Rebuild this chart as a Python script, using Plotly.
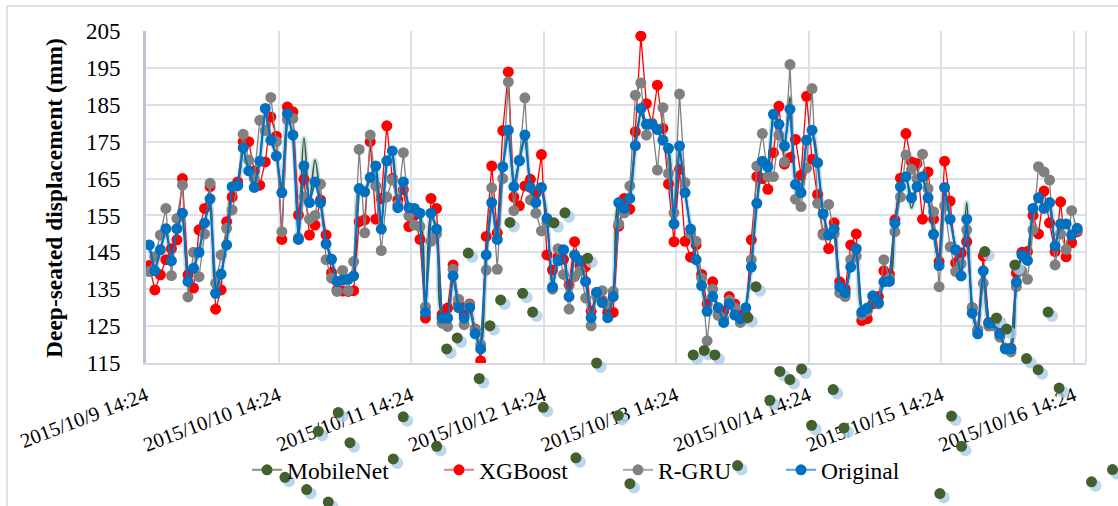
import pandas as pd
import plotly.graph_objects as go

# Hourly deep-seated displacement records (mm)
series_start = pd.Timestamp("2015-10-09 15:00")
n_points = 169
times = pd.date_range(series_start, periods=n_points, freq="h")

original = [
    147.0, 140.0, 145.7, 151.4, 142.7, 151.4, 155.6, 137.1, 140.7, 145.0,
    152.9, 159.5, 133.9, 139.1, 147.0, 162.8, 163.2, 173.3, 167.1, 162.6,
    169.7, 184.0, 175.4, 171.1, 161.2, 182.6, 176.8, 148.5, 168.4, 158.5,
    164.1, 158.5, 147.3, 143.1, 137.1, 137.5, 137.7, 138.6, 162.3, 161.4,
    165.3, 168.4, 151.3, 169.8, 172.5, 157.1, 164.1, 157.1, 156.9, 155.6,
    128.7, 155.6, 151.3, 127.2, 127.2, 138.6, 130.0, 127.2, 130.0, 122.9,
    118.8, 144.3, 158.5, 148.5, 168.2, 178.1, 162.8, 169.8, 176.8, 162.6,
    158.5, 162.6, 154.2, 135.6, 142.7, 145.7, 133.0, 144.3, 142.8, 137.1,
    127.3, 134.2, 131.4, 127.3, 133.0, 158.5, 156.9, 159.6, 173.9, 184.0,
    179.7, 179.7, 178.3, 175.4, 173.2, 152.7, 173.8, 161.2, 151.3, 143.0,
    136.0, 129.0, 133.0, 130.0, 126.0, 131.0, 128.0, 127.0, 130.0, 141.0,
    158.3, 169.7, 168.2, 182.4, 179.7, 173.8, 183.8, 163.4, 161.2, 175.4,
    178.1, 169.3, 155.4, 149.7, 151.3, 135.7, 134.1, 141.0, 146.0, 128.8,
    129.9, 133.2, 131.4, 137.0, 137.1, 152.9, 162.8, 165.5, 159.8, 162.8,
    165.5, 159.8, 149.9, 141.4, 162.6, 154.0, 145.7, 138.6, 154.0, 128.5,
    122.9, 140.0, 125.8, 125.8, 122.9, 118.8, 118.8, 136.9, 144.3, 142.8,
    156.9, 159.8, 156.9, 158.5, 146.7, 152.7, 152.7, 149.7, 151.5,
]

xgboost = [
    141.4, 134.8, 138.9, 143.0, 146.0, 148.4, 165.0, 138.9, 135.3, 151.1,
    156.9, 162.8, 129.6, 134.8, 153.3, 160.0, 164.1, 175.0, 175.0, 167.0,
    163.2, 169.5, 181.7, 176.5, 148.5, 184.4, 183.1, 155.1, 164.8, 149.7,
    152.4, 159.2, 149.7, 139.5, 134.8, 134.5, 134.4, 134.6, 153.3, 153.8,
    175.0, 154.0, 159.6, 179.3, 165.0, 159.2, 162.0, 152.0, 155.0, 148.5,
    127.2, 159.6, 156.9, 128.1, 129.9, 141.6, 131.0, 128.0, 131.0, 124.2,
    115.6, 149.3, 168.4, 150.3, 178.0, 193.9, 160.0, 157.6, 163.0, 164.8,
    161.0, 171.5, 144.3, 140.2, 143.7, 143.1, 136.2, 147.9, 141.3, 141.1,
    129.0, 134.0, 132.0, 128.7, 128.7, 152.1, 159.6, 156.7, 177.7, 203.6,
    185.3, 180.0, 190.3, 178.6, 163.5, 147.9, 167.5, 148.0, 143.7, 147.0,
    139.0, 131.0, 137.0, 128.0, 129.0, 133.0, 131.0, 128.0, 128.0, 148.4,
    165.5, 165.0, 162.1, 172.0, 184.6, 168.9, 170.7, 175.6, 165.9, 187.3,
    170.2, 160.7, 150.0, 146.0, 153.0, 137.0, 135.0, 147.0, 150.0, 126.5,
    127.0, 131.0, 133.0, 140.0, 139.0, 153.8, 165.1, 177.2, 169.5, 169.1,
    154.0, 166.8, 154.0, 142.5, 169.7, 158.9, 142.1, 144.8, 147.9, 130.0,
    124.0, 144.0, 126.0, 126.0, 123.0, 119.0, 119.0, 139.4, 145.0, 145.2,
    155.0, 150.0, 161.6, 153.0, 145.2, 158.7, 143.8, 147.6, 150.6,
]

rgru = [
    139.8, 143.8, 149.7, 156.9, 138.7, 154.2, 163.2, 132.9, 145.0, 138.4,
    150.0, 163.7, 136.6, 144.3, 151.5, 156.5, 163.0, 177.0, 170.0, 165.0,
    180.8, 178.0, 187.0, 175.0, 150.6, 181.0, 181.3, 149.0, 160.1, 154.0,
    155.0, 163.5, 143.0, 138.0, 134.4, 140.1, 134.6, 142.5, 172.9, 150.3,
    176.8, 163.0, 145.5, 160.0, 164.6, 158.0, 172.0, 154.9, 152.4, 152.0,
    130.2, 148.0, 150.0, 125.8, 124.9, 140.4, 132.3, 125.4, 130.8, 124.0,
    120.0, 140.2, 162.5, 140.4, 165.0, 191.2, 156.3, 170.0, 186.9, 159.2,
    155.6, 150.8, 153.0, 135.0, 146.0, 139.0, 129.6, 138.4, 140.0, 132.6,
    125.1, 133.0, 134.6, 131.0, 134.4, 152.7, 155.7, 163.0, 187.6, 190.9,
    176.8, 180.0, 167.3, 184.2, 166.4, 155.7, 187.9, 163.9, 150.0, 148.0,
    138.0, 121.0, 135.0, 128.0, 127.0, 132.0, 130.0, 126.0, 127.0, 143.0,
    168.4, 177.2, 165.5, 165.5, 176.8, 169.5, 195.9, 159.4, 157.4, 167.8,
    189.4, 158.3, 149.7, 158.0, 150.0, 134.0, 133.0, 143.0, 144.0, 128.0,
    129.0, 133.0, 131.0, 143.0, 138.0, 150.6, 160.0, 171.4, 167.5, 165.0,
    171.6, 162.3, 156.0, 135.7, 157.6, 146.5, 139.8, 141.9, 151.1, 130.0,
    124.0, 136.6, 125.0, 125.0, 122.0, 119.0, 118.0, 135.7, 140.0, 137.7,
    151.1, 168.2, 166.8, 164.6, 141.6, 150.0, 145.8, 156.3, 151.0,
]

mobilenet = [
    147.0, 140.5, 145.5, 151.0, 143.5, 151.0, 155.0, 138.0, 141.0, 145.5,
    153.0, 159.0, 134.5, 139.5, 147.5, 162.5, 163.5, 172.5, 167.5, 163.0,
    170.0, 183.0, 175.5, 171.5, 162.0, 181.5, 176.0, 150.0, 176.0, 159.5,
    170.0, 159.0, 148.0, 143.5, 137.5, 137.5, 138.0, 139.0, 162.0, 161.5,
    165.0, 168.0, 152.0, 169.0, 172.0, 157.5, 163.5, 157.5, 157.0, 155.5,
    129.5, 155.0, 151.5, 128.0, 127.5, 138.5, 130.5, 127.5, 130.5, 123.5,
    119.5, 144.0, 158.0, 149.0, 168.0, 177.5, 163.5, 170.0, 176.0, 163.0,
    159.0, 162.0, 154.5, 136.0, 143.0, 145.5, 133.5, 144.0, 143.0, 137.5,
    128.0, 134.0, 131.5, 128.0, 133.5, 158.0, 157.0, 160.0, 173.5, 182.5,
    179.5, 179.5, 178.0, 175.0, 173.0, 153.5, 173.0, 161.5, 151.5, 143.5,
    136.5, 129.5, 133.0, 130.5, 126.5, 131.0, 128.5, 127.5, 130.5, 141.5,
    158.5, 169.5, 168.0, 182.0, 179.5, 174.0, 187.0, 164.0, 161.5, 175.0,
    178.0, 169.5, 156.0, 150.0, 151.5, 136.0, 134.5, 141.5, 145.5, 129.5,
    130.0, 133.0, 131.5, 137.5, 137.5, 152.5, 162.5, 165.0, 157.0, 162.5,
    165.0, 160.0, 150.5, 141.5, 162.0, 154.5, 146.0, 139.0, 158.5, 129.0,
    123.5, 139.5, 126.0, 126.0, 123.5, 119.5, 119.5, 136.5, 144.0, 143.0,
    156.5, 159.5, 157.0, 158.0, 147.0, 152.5, 152.5, 150.0, 151.5,
]

# MobileNet marker points (hours after the first tick, displacement in mm)
mobilenet_dot_hours = [
    31.19, 34.81, 36.93, 25.16, 29.09, 33.00, 44.77, 46.58, 52.63, 54.44,
    56.35, 58.35, 62.27, 64.21, 68.19, 70.00, 60.34, 71.92, 65.89, 73.86,
    75.85, 79.96, 77.84, 81.59, 85.50, 87.62, 99.08, 101.07, 103.00, 107.11,
    110.43, 108.98, 112.96, 114.77, 116.58, 118.70, 124.42, 120.51, 126.36, 145.85,
    147.66, 143.74, 151.88, 157.31, 154.00, 159.43, 161.53, 163.34, 165.33, 171.20,
    175.00, 155.81,
]
mobilenet_dot_values = [
    96.5, 101.6, 93.4, 84.0, 80.7, 77.3, 89.0, 100.4, 92.4, 118.8,
    121.8, 144.8, 125.1, 132.1, 133.9, 128.8, 110.8, 103.0, 153.1, 153.0,
    155.7, 143.4, 89.3, 115.0, 100.8, 82.3, 117.2, 118.4, 117.2, 87.2,
    135.7, 127.3, 104.9, 112.7, 110.5, 113.4, 107.8, 98.1, 97.4, 100.6,
    92.4, 79.6, 145.2, 141.6, 127.2, 116.2, 113.2, 128.8, 108.2, 82.8,
    86.1, 124.2,
]

tick_origin = pd.Timestamp("2015-10-09 14:24")
tick_vals = pd.date_range(tick_origin, periods=8, freq="D")
tick_text = [
    "2015/10/9 14:24", "2015/10/10 14:24", "2015/10/11 14:24", "2015/10/12 14:24",
    "2015/10/13 14:24", "2015/10/14 14:24", "2015/10/15 14:24", "2015/10/16 14:24",
]

y_min, y_max, y_step = 115, 205, 10
x_span_hours = 170.2

# Canvas and plotting-area geometry (pixels)
W, H = 1118, 506
PL, PR, PT, PB = 146, 1086, 31, 363      # plot box edges
plot_w = PR - PL
plot_h = PB - PT

FONT = "Liberation Serif"
GREEN = "#43602F"
RED = "#FF0000"
GRAY = "#808080"
BLUE = "#0070C0"
MSIZE = 11
GRID = "#DCE1E8"

hours_per_px = x_span_hours / plot_w
units_per_px = (y_max - y_min) / plot_h
x_end = tick_origin + pd.to_timedelta(x_span_hours, unit="h")

# Full-canvas overlay axes sharing the same data scale, so the MobileNet
# markers keep their positions even where they fall outside the plot box.
ov_x_range = [tick_origin - pd.to_timedelta(PL * hours_per_px, unit="h"),
              tick_origin + pd.to_timedelta((W - PL) * hours_per_px, unit="h")]
ov_y_range = [y_min - (H - PB) * units_per_px, y_max + PT * units_per_px]

dot_times = tick_origin + pd.to_timedelta(mobilenet_dot_hours, unit="h")
shadow_px = 4
shadow_times = dot_times + pd.to_timedelta(shadow_px * hours_per_px, unit="h")
shadow_values = [v - shadow_px * units_per_px for v in mobilenet_dot_values]

fig = go.Figure()

# MobileNet: smoothed line with a soft glow
fig.add_trace(go.Scatter(
    x=times, y=mobilenet, mode="lines", showlegend=False, hoverinfo="skip",
    line=dict(color="rgba(157,195,230,0.55)", width=5, shape="spline", smoothing=1.0),
))
fig.add_trace(go.Scatter(
    x=times, y=mobilenet, mode="lines", showlegend=False, name="MobileNet",
    line=dict(color="#3B5A28", width=1.6, shape="spline", smoothing=1.0),
))

fig.add_trace(go.Scatter(
    x=times, y=xgboost, mode="lines+markers", showlegend=False, name="XGBoost",
    line=dict(color=RED, width=1.3),
    marker=dict(size=MSIZE, color=RED, line=dict(width=0)),
))
fig.add_trace(go.Scatter(
    x=times, y=rgru, mode="lines+markers", showlegend=False, name="R-GRU",
    line=dict(color=GRAY, width=1.3),
    marker=dict(size=MSIZE, color=GRAY, line=dict(width=0)),
))
fig.add_trace(go.Scatter(
    x=times, y=original, mode="lines+markers", showlegend=False, name="Original",
    line=dict(color=BLUE, width=2),
    marker=dict(size=MSIZE, color=BLUE, line=dict(width=0)),
))

# MobileNet markers with a light drop shadow, on the overlay axes
fig.add_trace(go.Scatter(
    x=shadow_times, y=shadow_values, mode="markers", showlegend=False, hoverinfo="skip",
    xaxis="x2", yaxis="y2",
    marker=dict(size=MSIZE + 1, color="rgba(170,204,234,0.8)", line=dict(width=0)),
))
fig.add_trace(go.Scatter(
    x=dot_times, y=mobilenet_dot_values, mode="markers", showlegend=False, name="MobileNet",
    xaxis="x2", yaxis="y2",
    marker=dict(size=MSIZE, color=GREEN, line=dict(width=0)),
))

# Legend entries, one legend box per series so each can be placed freely
legend_items = [
    ("MobileNet", "#7E9A6C", GREEN, "legend", 247),
    ("XGBoost", "#F47C7C", RED, "legend2", 439),
    ("R-GRU", "#A8A8A8", GRAY, "legend3", 618),
    ("Original", "#5FA0DA", BLUE, "legend4", 781),
]
legend_layout = {}
for name, lcol, mcol, lg, px in legend_items:
    fig.add_trace(go.Scatter(
        x=[None], y=[None], mode="lines+markers", name=name, legend=lg,
        line=dict(color=lcol, width=2),
        marker=dict(size=MSIZE, color=mcol),
    ))
    legend_layout[lg] = dict(
        x=px / W, y=1 - 470 / H, xanchor="left", yanchor="middle",
        orientation="h", bgcolor="rgba(0,0,0,0)",
        font=dict(family=FONT, size=23.5, color="black"),
    )

fig.update_layout(
    width=W, height=H,
    margin=dict(l=0, r=0, t=0, b=0, autoexpand=False),
    paper_bgcolor="white", plot_bgcolor="rgba(0,0,0,0)",
    font=dict(family=FONT, color="black"),
    **legend_layout,
    xaxis=dict(
        type="date", domain=[PL / W, PR / W], anchor="y", automargin=False,
        range=[tick_origin, x_end],
        tickmode="array", tickvals=tick_vals, ticktext=tick_text,
        tickangle=-21, tickfont=dict(family=FONT, size=20.5, color="black"),
        ticklabelstandoff=11,
        showgrid=True, gridcolor=GRID, gridwidth=2,
        showline=True, linecolor="#D3D9E2", linewidth=2,
        ticks="", zeroline=False,
    ),
    yaxis=dict(
        domain=[1 - PB / H, 1 - PT / H], anchor="x", automargin=False,
        range=[y_min, y_max], dtick=y_step, tick0=y_min,
        tickfont=dict(family=FONT, size=23, color="black"),
        showgrid=True, gridcolor=GRID, gridwidth=2,
        showline=True, linecolor="#BCC5D3", linewidth=3,
        ticks="", ticklabelstandoff=18, zeroline=False,
    ),
    xaxis2=dict(type="date", domain=[0, 1], anchor="y2", range=ov_x_range,
                visible=False, automargin=False),
    yaxis2=dict(domain=[0, 1], anchor="x2", range=ov_y_range,
                visible=False, automargin=False),
    annotations=[dict(
        text="<b>Deep-seated displacement (mm)</b>", textangle=-90,
        xref="paper", yref="paper", x=54 / W, y=1 - 198 / H,
        xanchor="center", yanchor="middle", showarrow=False,
        font=dict(family=FONT, size=23.5, color="black"),
    )],
    shapes=[
        dict(type="line", xref="paper", yref="paper", x0=PR / W, x1=PR / W,
             y0=1 - PB / H, y1=1 - PT / H, line=dict(color=GRID, width=2), layer="below"),
        dict(type="rect", xref="paper", yref="paper",
             x0=7 / W, x1=1.05, y0=-0.05, y1=1 - 6 / H,
             line=dict(color="#D9D9D9", width=1.5), layer="below"),
    ],
)

fig.write_html("out.html")
